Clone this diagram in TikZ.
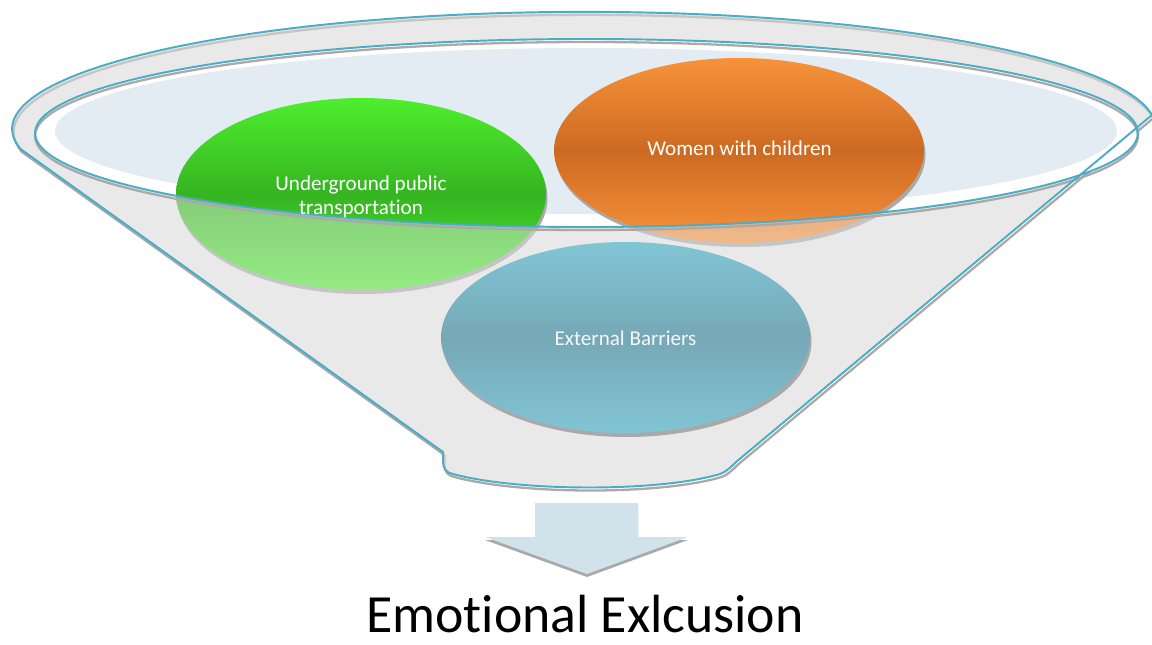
\documentclass[tikz,border=0pt]{standalone}
\usepackage{fontspec}
\setmainfont[Ligatures=NoCommon]{Carlito}
\usetikzlibrary{calc}

\definecolor{rimblue}{HTML}{4BACC6}
\definecolor{rimshadow}{HTML}{A9A9A9}
\definecolor{funnelgray}{HTML}{E9E9E9}
\definecolor{liquid}{HTML}{E4ECF3}
\definecolor{arrowfill}{HTML}{D0E2EA}
\definecolor{greenA}{HTML}{4EEE2E}
\definecolor{greenB}{HTML}{35B421}
\definecolor{orangeA}{HTML}{F8923A}
\definecolor{orangeB}{HTML}{CC6A22}
\definecolor{blueA}{HTML}{81C5D5}
\definecolor{blueB}{HTML}{76A8B6}

% outline of the funnel (rim arc, cone and spout), in pixel units
\newcommand{\funnelpath}{(20.4,148.9) -- (443,452) -- (443,462)
  .. controls (443,469) and (447,473) .. (453,474)
  .. controls (520,492) and (660,492) .. (720,474)
  .. controls (726,472) and (731,467) .. (736,462)
  -- (1152,115) arc[start angle=-6.8, end angle=-189.85, x radius=572, y radius=117] -- cycle}

\tikzset{
  rimline/.style={draw=rimblue, line width=1.1pt},
  rimshade/.style={draw=rimshadow, line width=1.3pt},
  bubbleshadow/.style={fill=rimshadow, shift={(1.5,4)}},
  bubbletext/.style={text=white, font=\fontsize{12}{13.5}\selectfont, align=center}
}

\begin{document}
\begin{tikzpicture}[x=0.02cm, y=-0.02cm]
\useasboundingbox (0,0) rectangle (1152,645);

% Inner rim of the funnel
\pgfmathsetmacro{\rimX}{586.5}
\pgfmathsetmacro{\rimY}{133}
\pgfmathsetmacro{\rimA}{551.5}
\pgfmathsetmacro{\rimB}{94}

% Funnel body and its shadow
\fill[funnelgray] \funnelpath;
\draw[rimshade, shift={(1.5,3)}] \funnelpath;

% Opening and liquid surface
\fill[white] (\rimX,\rimY) ellipse[x radius=\rimA, y radius=\rimB];
\fill[liquid] (586,131) ellipse[x radius=531, y radius=83];

% Bubbles inside the funnel
\fill[bubbleshadow] (361,194) ellipse[x radius=185, y radius=96];
\shade[top color=greenA, bottom color=greenA, middle color=greenB]
  (361,194) ellipse[x radius=185, y radius=96];
\fill[bubbleshadow] (739,150.5) ellipse[x radius=185, y radius=92.5];
\shade[top color=orangeA, bottom color=orangeA, middle color=orangeB]
  (739,150.5) ellipse[x radius=185, y radius=92.5];

% Front wall of the funnel, see-through
\begin{scope}
\clip \funnelpath;
\fill[funnelgray, fill opacity=0.45, even odd rule] \funnelpath
  (\rimX,\rimY) ellipse[x radius=\rimA, y radius=\rimB];
\end{scope}

\fill[bubbleshadow] (625.5,337.5) ellipse[x radius=184.5, y radius=95.5];
\shade[top color=blueA, bottom color=blueA, middle color=blueB]
  (625.5,337.5) ellipse[x radius=184.5, y radius=95.5];

% Rim line on top
\draw[rimshade, shift={(0,3)}] (\rimX,\rimY) ellipse[x radius=\rimA, y radius=\rimB];
\draw[rimline] (\rimX,\rimY) ellipse[x radius=\rimA, y radius=\rimB];
\draw[rimline] \funnelpath;

% Labels
\node[bubbletext] (under) at (361,197) {Underground public\\transportation};
\node[bubbletext, anchor=base] (women) at (739.5,155.7) {Women with children};
\node[bubbletext, anchor=base, text=white!92!blueB] (barriers) at (625.5,345) {External Barriers};

% Outlet arrow
\fill[rimshadow, shift={(0,3)}] (535,503) -- (638,503) -- (638,537) -- (688,537)
  -- (587,574) -- (485,537) -- (535,537) -- cycle;
\fill[arrowfill] (535,503) -- (638,503) -- (638,537) -- (688,537)
  -- (587,574) -- (485,537) -- (535,537) -- cycle;

\node[anchor=base, inner sep=0pt, font=\fontsize{30.6}{36}\selectfont] (result) at (585,632) {Emotional Exlcusion};

\end{tikzpicture}
\end{document}
